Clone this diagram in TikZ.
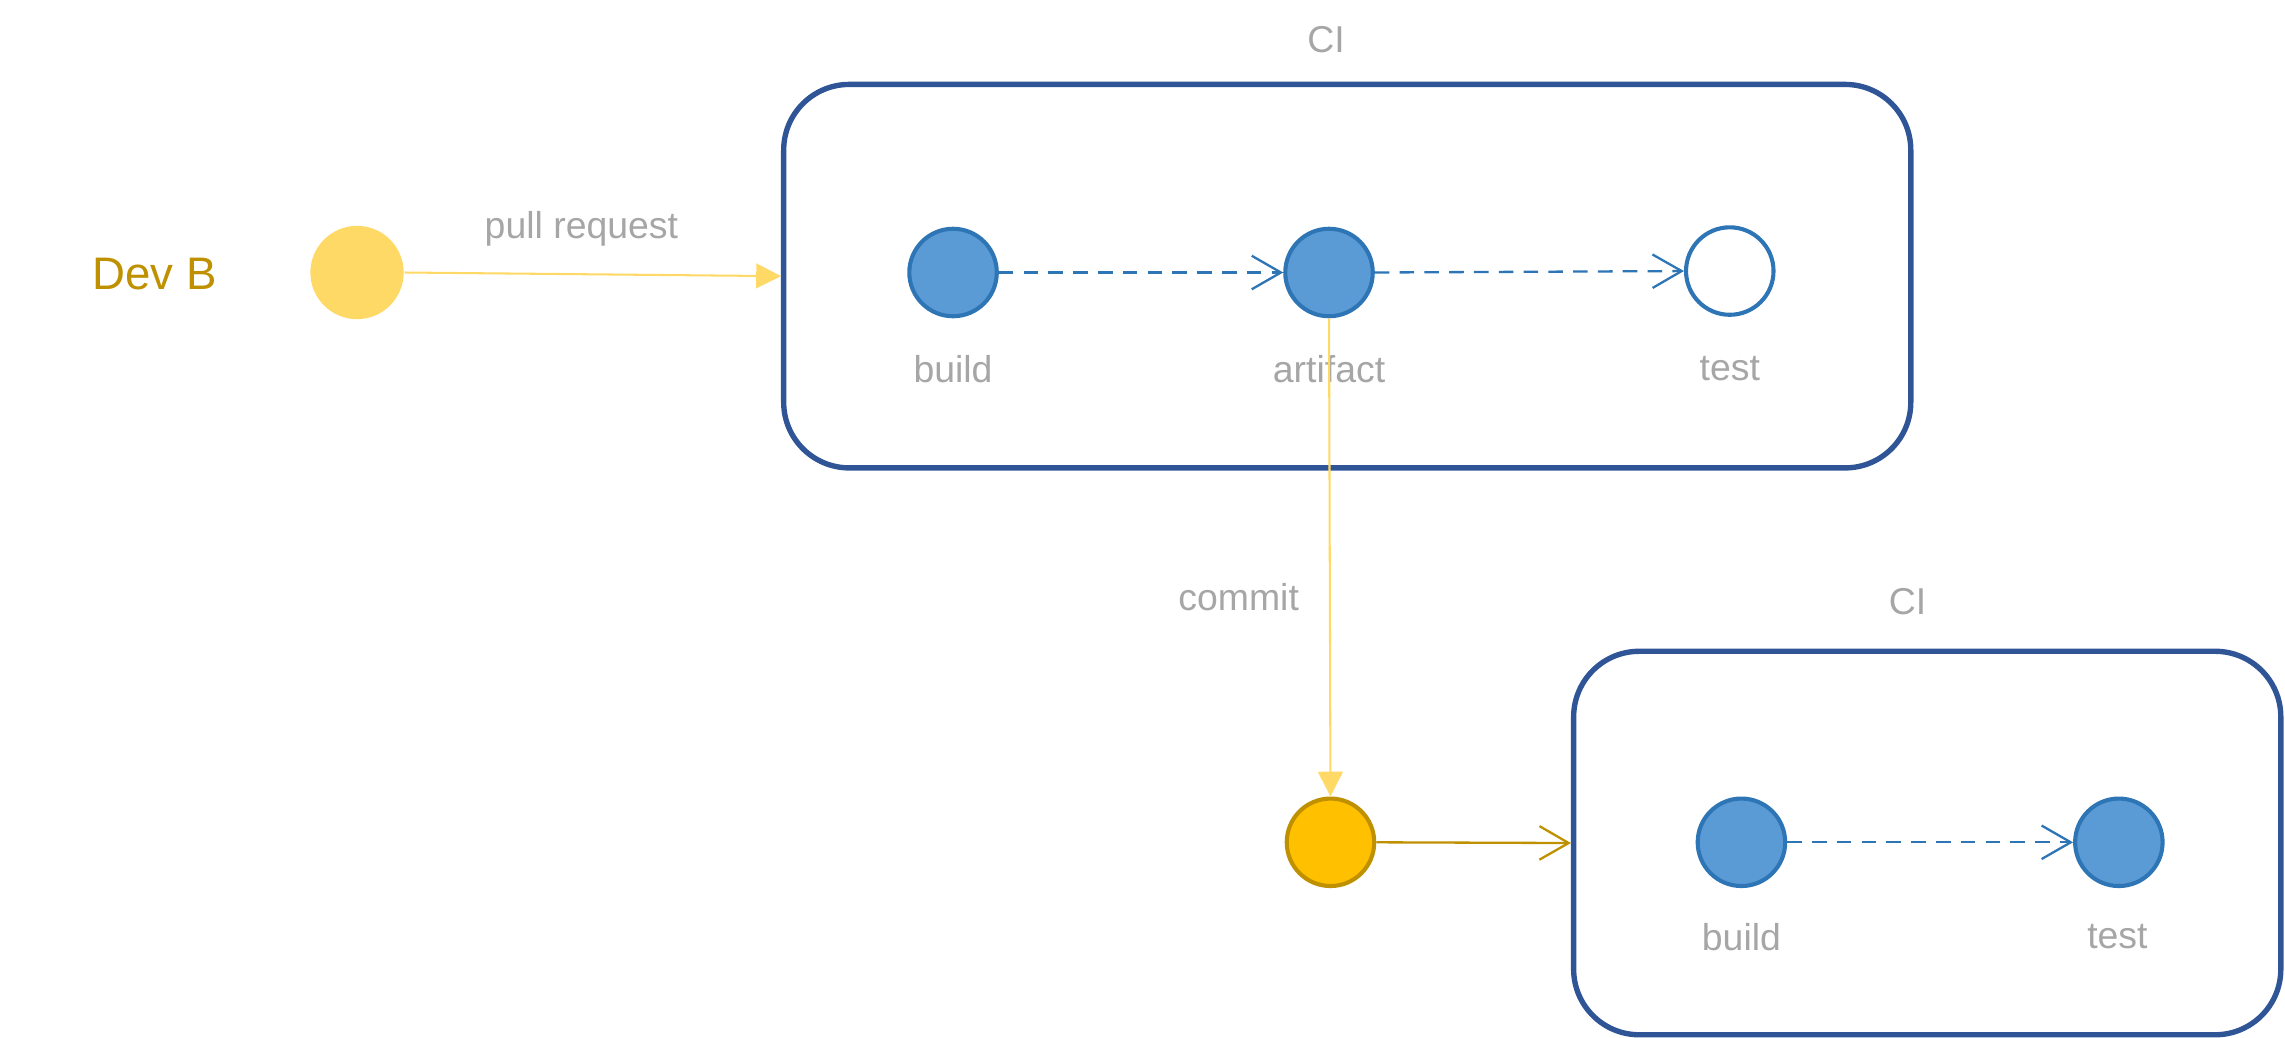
\documentclass[tikz,border=0pt]{standalone}
\usepackage{fontspec}
\setmainfont{Liberation Sans}
\usetikzlibrary{arrows.meta}
\definecolor{boxblue}{HTML}{2F5597}
\definecolor{nodefill}{HTML}{5B9BD5}
\definecolor{nodeline}{HTML}{2E75B6}
\definecolor{lightyellow}{HTML}{FFD966}
\definecolor{goldfill}{HTML}{FFC000}
\definecolor{darkgold}{HTML}{BF9000}
\definecolor{labelgray}{HTML}{A6A6A6}
\begin{document}
\begin{tikzpicture}[x=0.01cm,y=-0.01cm,
  lbl/.style={text=labelgray,font=\fontsize{7.3}{8.6}\selectfont,inner sep=0},
  stage/.style={circle,minimum size=0.6cm,inner sep=0,draw=nodeline,line width=0.8pt,fill=nodefill},
  emptystage/.style={stage,fill=white},
  cibox/.style={draw=boxblue,line width=1.05pt,rounded corners=0.45cm,inner sep=0},
  flow/.style={draw=nodeline,line width=0.45pt,dash pattern=on 0.1cm off 0.07cm,-{Straight Barb[length=0.2cm,width=0.23cm]}},
  pr/.style={draw=lightyellow,line width=0.4pt,-{Triangle[length=0.17cm,width=0.17cm]}},
  push/.style={draw=darkgold,line width=0.45pt,-{Straight Barb[length=0.2cm,width=0.23cm]}}
]
\useasboundingbox (0,0) rectangle (1568,712);

% Dev B
\node[text=darkgold,font=\fontsize{8.9}{10.5}\selectfont,inner sep=0] (devlabel) at (106,188) {Dev B};
\node[circle,fill=lightyellow,minimum size=0.64cm,inner sep=0] (devb) at (245,187) {};

% upper CI
\node[lbl] (ci1title) at (910,27) {CI};
\node[cibox,minimum width=7.73cm,minimum height=2.63cm] (ci1) at (924.5,189.5) {};
\node[stage] (b1) at (654,187) {};
\node[stage] (a1) at (912,187) {};
\node[emptystage] (t1) at (1187,186) {};
\node[lbl] (b1l) at (654,253) {build};
\node[lbl] (a1l) at (912,253) {artifact};
\node[lbl] (t1l) at (1187,253) {test};

% lower CI
\node[lbl] (ci2title) at (1309,413) {CI};
\node[cibox,minimum width=4.85cm,minimum height=2.63cm] (ci2) at (1322.5,578.5) {};
\node[stage] (b2) at (1195,578) {};
\node[stage] (t2) at (1454,578) {};
\node[lbl] (b2l) at (1195,643) {build};
\node[lbl] (t2l) at (1453,643) {test};

% commit
\node[circle,fill=goldfill,draw=darkgold,line width=0.8pt,minimum size=0.6cm,inner sep=0] (commit) at (913,578) {};

% connectors
\draw[pr] (devb.east) -- (ci1.west);
\node[lbl] (prl) at (399,157) {pull request};
\draw[flow] (b1.east) -- (a1.west);
\draw[flow] (a1.east) -- (t1.west);
\draw[flow] (b2.east) -- (t2.west);
\draw[pr] (a1.south) -- (commit.north);
\node[lbl] (cl) at (850,410) {commit};
\draw[push] (commit.east) -- (ci2.west);
\end{tikzpicture}
\end{document}
